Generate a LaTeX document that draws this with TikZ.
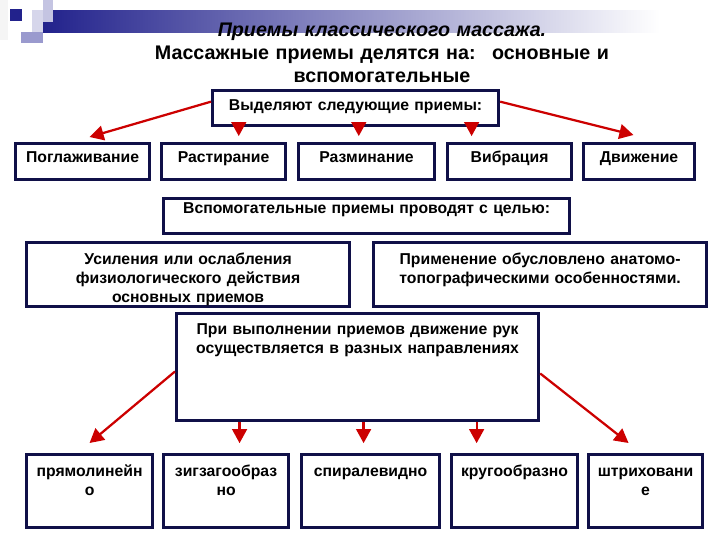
\documentclass[tikz,border=0pt]{standalone}
\usepackage{fontspec}
\setmainfont{Liberation Sans}
\usetikzlibrary{arrows.meta}
\definecolor{boxBlue}{HTML}{101048}
\definecolor{arrowRed}{HTML}{CC0000}
\definecolor{barBlue}{HTML}{22228C}
\definecolor{barLight}{HTML}{C4C4E2}
\definecolor{barMid}{HTML}{9A9ACE}

\tikzset{
  box/.style={draw=boxBlue, line width=2.2pt, fill=white, inner sep=0pt,
    align=center, anchor=north west,
    font=\bfseries\fontsize{11.2}{13.5}\selectfont},
  arr/.style={->, arrowRed, line width=1.6pt}
}

\begin{document}
\begin{tikzpicture}[x=0.025cm, y=-0.025cm, >={Triangle[length=10pt,width=10.5pt]}]
    \useasboundingbox (0,0) rectangle (720,540);

    % header bar
    \fill[black!4] (0,0) rectangle (8,40);
    \shade[left color=barBlue, right color=white] (43,10) rectangle (660,32);
    \fill[barLight!70] (32,10) rectangle (43,32);
    \fill[barLight] (43,0) rectangle (53,22);
    \fill[barMid] (21,32) rectangle (43,43);
    \fill[barBlue] (10,9) rectangle (22,21);

    % title
    \node[anchor=base, text width=14cm, align=center,
          font=\bfseries\fontsize{14}{16.5}\selectfont] (titel) at (382,36)
        {\textit{Приемы классического массажа.}\\
         Массажные приемы делятся на:~ основные и\\
         вспомогательные};

    % main techniques
    \node[box, text width=7.15cm, text height=0.5cm, text depth=0.375cm] (vydel) at (211,89)
        {Выделяют следующие приемы:};
    \foreach \x/\w/\t [count=\i] in {14/3.35/Поглаживание, 160/3.1/Растирание,
        297/3.4/Разминание, 446/3.1/Вибрация, 582/2.775/Движение}
        \node[box, text width=\w cm, text height=0.475cm, text depth=0.425cm] (osn\i) at (\x,142) {\t};

    \draw[arr] ([yshift=0.16cm]vydel.west) -- ([xshift=0.175cm,yshift=0.125cm]osn1.north);
    \draw[arr] ([yshift=0.16cm]vydel.east) -- ([xshift=-0.14cm,yshift=0.175cm]osn5.north);
    \foreach \s/\j in {-2.92/2, 0.08/3, 2.9/4}
        \draw[arr, shorten >=4.2pt] ([xshift=\s cm]vydel.south) -- ([xshift=\s cm]vydel.south |- osn\j.north);

    % auxiliary techniques
    \node[box, text width=10.15cm, text height=0.375cm, text depth=0.5cm] (vspom) at (162,197)
        {Вспомогательные приемы проводят с целью:};
    \node[box, text width=8.075cm, text height=0.55cm, text depth=1.05cm] (usil) at (25,241)
        {Усиления или ослабления\\ физиологического действия\\ основных приемов};
    \node[box, text width=8.325cm, text height=0.55cm, text depth=1.05cm] (primen) at (372,241)
        {Применение обусловлено анатомо-\\ топографическими особенностями.};

    % directions of hand movement
    \node[box, text width=9.05cm, text height=0.525cm, text depth=2.15cm] (napr) at (175,312)
        {При выполнении приемов движение рук\\ осуществляется в разных направлениях};
    \foreach \x/\w/\t [count=\i] in {25/3.15/{прямолинейн\\о}, 162/3.125/{зигзагообраз\\но},
        300/3.45/спиралевидно, 450/3.15/кругообразно, 587/2.85/{штриховани\\е}}
        \node[box, text width=\w cm, text height=0.55cm, text depth=1.275cm] (vid\i) at (\x,453) {\t};

    \draw[arr] ([yshift=-0.11cm]napr.west) -- ([yshift=0.25cm]vid1.north);
    \draw[arr] ([yshift=-0.16cm]napr.east) -- ([xshift=-0.425cm,yshift=0.25cm]vid5.north);
    \foreach \s/\j in {-2.95/2, 0.15/3, 2.975/4}
        \draw[arr, shorten >=7pt] ([xshift=\s cm]napr.south) -- ([xshift=\s cm]napr.south |- vid\j.north);

\end{tikzpicture}
\end{document}
